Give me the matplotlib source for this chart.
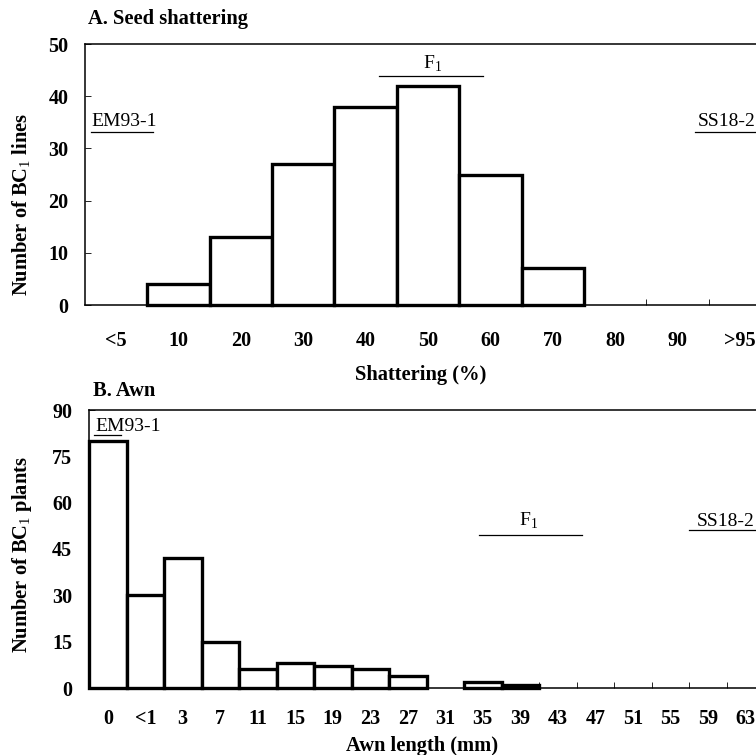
import matplotlib
matplotlib.use("Agg")
import matplotlib.pyplot as plt

plt.rcParams['font.family'] = 'Liberation Serif'
plt.rcParams['mathtext.fontset'] = 'custom'
plt.rcParams['mathtext.rm'] = 'Liberation Serif'
plt.rcParams['mathtext.bf'] = 'Liberation Serif:bold'

# A. seed shattering
shatter_labels = ['<5', '10', '20', '30', '40', '50', '60', '70', '80', '90', '>95']
shatter_counts = [0, 4, 13, 27, 38, 42, 25, 7, 0, 0, 0]

# B. awn length
awn_labels = ['0', '<1', '3', '7', '11', '15', '19', '23', '27', '31', '35', '39',
              '43', '47', '51', '55', '59', '63']
awn_counts = [80, 30, 42, 15, 6, 8, 7, 6, 4, 0, 2, 1, 0, 0, 0, 0, 0, 0]

fig = plt.figure(figsize=(7.56, 7.55), dpi=100)

def draw_panel(ax, labels, counts, ymax, ystep, xpad):
    n = len(labels)
    xs = [i for i in range(n) if counts[i] > 0]
    hs = [counts[i] for i in xs]
    ax.bar(xs, hs, width=1.0, color='white', edgecolor='black',
           linewidth=2.4, clip_on=False, zorder=3)
    ax.set_xlim(-0.5, n - 0.5)
    ax.set_ylim(0, ymax)
    ax.set_yticks(range(0, ymax + 1, ystep))
    ax.set_xticks(range(n))
    ax.set_xticklabels(labels)
    ax.set_xticks([i + 0.5 for i in range(n - 1)], minor=True)
    ax.tick_params(axis='x', which='major', length=0, pad=xpad, labelsize=14.5)
    ax.tick_params(axis='x', which='minor', direction='in', length=4, width=0.6)
    ax.tick_params(axis='y', direction='in', length=4, width=0.6, pad=12, labelsize=14.5)
    for lab in ax.get_xticklabels() + ax.get_yticklabels():
        lab.set_fontweight('bold')
    for sp in ax.spines.values():
        sp.set_linewidth(1.1)

axA = fig.add_axes([85/756, 1-305/755, (771-85)/756, (305-44)/755])
draw_panel(axA, shatter_labels, shatter_counts, 50, 10, 19)
axA.plot([-0.4, 0.59], [33.2, 33.2], color='black', lw=0.9)
axA.text(-0.4, 34.3, 'EM93-1', fontsize=14)
axA.plot([4.21, 5.88], [43.9, 43.9], color='black', lw=0.9)
axA.text(4.92, 45.3, 'F$_1$', fontsize=14)
axA.plot([9.28, 10.5], [33.2, 33.2], color='black', lw=0.9, clip_on=False)
axA.text(9.32, 34.3, 'SS18-2', fontsize=14)

axB = fig.add_axes([89/756, 1-688/755, (764-89)/756, (688-410)/755])
draw_panel(axB, awn_labels, awn_counts, 90, 15, 15)
axB.plot([-0.37, 0.35], [82, 82], color='black', lw=0.9, zorder=4)
axB.text(-0.34, 83.3, 'EM93-1', fontsize=14)
axB.plot([9.9, 12.65], [49.6, 49.6], color='black', lw=0.9)
axB.text(10.97, 52.4, 'F$_1$', fontsize=14)
axB.plot([15.5, 17.5], [51.2, 51.2], color='black', lw=0.9, clip_on=False)
axB.text(15.7, 52.4, 'SS18-2', fontsize=14)

fig.text(88/756, 1-24/755, 'A. Seed shattering', fontsize=14.8, fontweight='bold',
         ha='left', va='baseline')
fig.text(93/756, 1-396/755, 'B. Awn', fontsize=14.8, fontweight='bold',
         ha='left', va='baseline')
fig.text(22/756, 1-204/755, 'Number of BC$_\\mathrm{1}$ lines', fontsize=14.8,
         fontweight='bold', rotation=90, ha='center', va='center')
fig.text(22/756, 1-555/755, 'Number of BC$_\\mathrm{1}$ plants', fontsize=14.8,
         fontweight='bold', rotation=90, ha='center', va='center')
fig.text(421/756, 1-380/755, 'Shattering (%)', fontsize=14.8, fontweight='bold',
         ha='center', va='baseline')
fig.text(422/756, 1-751/755, 'Awn length (mm)', fontsize=14.8, fontweight='bold',
         ha='center', va='baseline')

fig.savefig('out.png', dpi=100)
